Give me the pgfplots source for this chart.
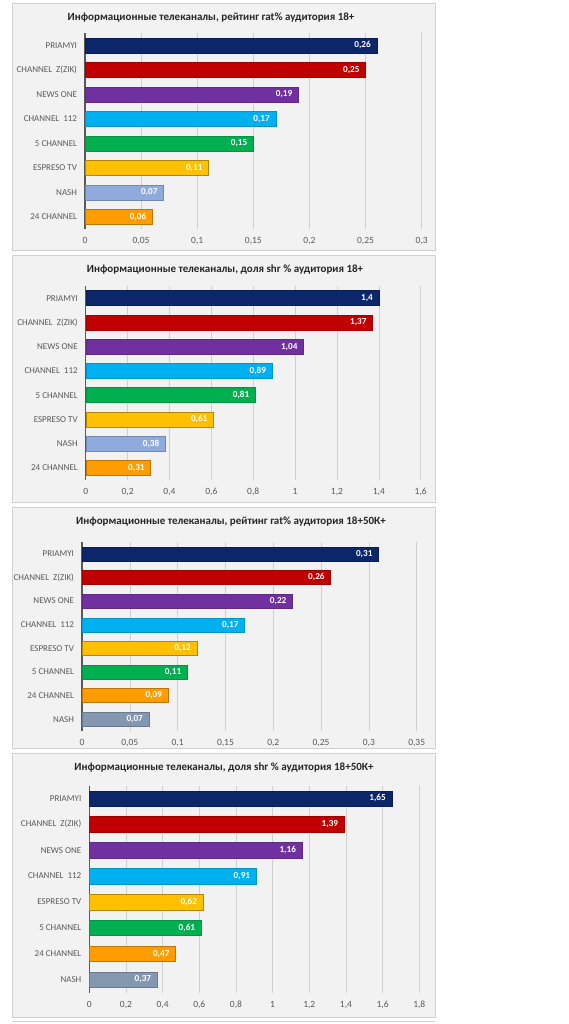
\documentclass[border=0pt]{standalone}
\usepackage{fontspec}
\setmainfont{Carlito}
\usepackage{pgfplots}
\pgfplotsset{compat=1.18}
\definecolor{cnavy}{HTML}{0C266A}
\definecolor{cred}{HTML}{C00000}
\definecolor{cpurple}{HTML}{7030A0}
\definecolor{cblue}{HTML}{00B0F0}
\definecolor{cgreen}{HTML}{00B050}
\definecolor{cyellow}{HTML}{FFC000}
\definecolor{cnashA}{HTML}{8FAADC}
\definecolor{cnashB}{HTML}{8497B0}
\definecolor{corange}{HTML}{FF9C00}
\definecolor{panelbg}{HTML}{F2F2F2}
\definecolor{bordergray}{HTML}{D0D0D0}
\definecolor{gridgray}{HTML}{D0D0D0}
\definecolor{tickgray}{HTML}{595959}
\tikzset{ttl/.style={font=\bfseries\fontsize{11}{13}\selectfont, text=black!85}}
\pgfplotsset{
  panel/.style={
    scale only axis,
    xbar, bar shift=0pt,
    y dir=reverse, ymin=-0.5, ymax=7.5, ytick={0,...,7},
    xmin=0, enlarge x limits=false, enlarge y limits=false,
    scaled x ticks=false, scaled y ticks=false,
    axis x line*=bottom, axis y line*=left,
    x axis line style={draw=none},
    y axis line style={draw=tickgray, line width=1.2pt},
    major tick length=0pt,
    xmajorgrids, grid style={gridgray, line width=0.6pt},
    yticklabel style={xshift=-4.5pt, font=\fontsize{9}{10}\selectfont, text=tickgray},
    xticklabel style={yshift=-3.5pt, text height=1.6ex, text depth=0.3ex,
      font=\fontsize{9.5}{11}\selectfont, text=tickgray,
      /pgf/number format/.cd, fixed, precision=2, use comma, assume math mode=true},
    point meta=x,
    nodes near coords={\pgfmathprintnumber[fixed,precision=2,use comma,assume math mode=true]{\pgfplotspointmeta}},
    every node near coord/.append style={anchor=east, xshift=-2.5pt, text=white,
      font=\bfseries\fontsize{9.2}{10}\selectfont},
  },
}
\begin{document}
\begin{tikzpicture}
\path[fill=white] (0pt,0pt) rectangle (569pt,-1024pt);
\draw[bordergray, fill=panelbg] (12pt,-3pt) rectangle (435pt,-250pt);
\draw[bordergray, fill=panelbg] (12pt,-255pt) rectangle (435pt,-502pt);
\draw[bordergray, fill=panelbg] (12pt,-507pt) rectangle (435pt,-748pt);
\draw[bordergray, fill=panelbg] (12pt,-753pt) rectangle (435pt,-1017pt);
\draw[bordergray] (12pt,-1021pt) -- (435pt,-1021pt);

\node[ttl] at (211pt,-18pt) {Информационные телеканалы, рейтинг rat\% аудитория 18+};
\node[ttl] at (225pt,-270pt) {Информационные телеканалы, доля shr \% аудитория 18+};
\node[ttl] at (231pt,-522pt) {Информационные телеканалы, рейтинг rat\% аудитория 18+50К+};
\node[ttl] at (224pt,-768pt) {Информационные телеканалы, доля shr \% аудитория 18+50К+};

% Panel 1
\begin{axis}[panel, at={(85pt,-229pt)}, anchor=south west, width=336.7pt, height=196pt,
  xmax=0.3, xtick={0,0.05,0.1,0.15,0.2,0.25,0.3}, bar width=15pt,
  yticklabels={PRIAMYI,{CHANNEL\ \ Z(ZIK)},NEWS ONE,{CHANNEL\ \ 112},5 CHANNEL,ESPRESO TV,NASH,24 CHANNEL}]
\addplot[fill=cnavy, draw=cnavy!80!black] coordinates {(0.26,0)};
\addplot[fill=cred, draw=cred!85!black] coordinates {(0.25,1)};
\addplot[fill=cpurple, draw=cpurple!85!black] coordinates {(0.19,2)};
\addplot[fill=cblue, draw=cblue!85!black] coordinates {(0.17,3)};
\addplot[fill=cgreen, draw=cgreen!85!black] coordinates {(0.15,4)};
\addplot[fill=cyellow, draw=cyellow!70!black] coordinates {(0.11,5)};
\addplot[fill=cnashA, draw=cnashA!80!black] coordinates {(0.07,6)};
\addplot[fill=corange, draw=corange!75!black] coordinates {(0.06,7)};
\end{axis}

% Panel 2
\begin{axis}[panel, at={(85.7pt,-480pt)}, anchor=south west, width=335pt, height=194pt,
  xmax=1.6, xtick={0,0.2,0.4,0.6,0.8,1,1.2,1.4,1.6}, bar width=15pt,
  yticklabels={PRIAMYI,{CHANNEL\ \ Z(ZIK)},NEWS ONE,{CHANNEL\ \ 112},5 CHANNEL,ESPRESO TV,NASH,24 CHANNEL}]
\addplot[fill=cnavy, draw=cnavy!80!black] coordinates {(1.4,0)};
\addplot[fill=cred, draw=cred!85!black] coordinates {(1.37,1)};
\addplot[fill=cpurple, draw=cpurple!85!black] coordinates {(1.04,2)};
\addplot[fill=cblue, draw=cblue!85!black] coordinates {(0.89,3)};
\addplot[fill=cgreen, draw=cgreen!85!black] coordinates {(0.81,4)};
\addplot[fill=cyellow, draw=cyellow!70!black] coordinates {(0.61,5)};
\addplot[fill=cnashA, draw=cnashA!80!black] coordinates {(0.38,6)};
\addplot[fill=corange, draw=corange!75!black] coordinates {(0.31,7)};
\end{axis}

% Panel 3
\begin{axis}[panel, at={(82pt,-731pt)}, anchor=south west, width=334.7pt, height=189pt,
  xmax=0.35, xtick={0,0.05,0.1,0.15,0.2,0.25,0.3,0.35}, bar width=14pt,
  yticklabels={PRIAMYI,{CHANNEL\ \ Z(ZIK)},NEWS ONE,{CHANNEL\ \ 112},ESPRESO TV,5 CHANNEL,24 CHANNEL,NASH}]
\addplot[fill=cnavy, draw=cnavy!80!black] coordinates {(0.31,0)};
\addplot[fill=cred, draw=cred!85!black] coordinates {(0.26,1)};
\addplot[fill=cpurple, draw=cpurple!85!black] coordinates {(0.22,2)};
\addplot[fill=cblue, draw=cblue!85!black] coordinates {(0.17,3)};
\addplot[fill=cyellow, draw=cyellow!70!black] coordinates {(0.12,4)};
\addplot[fill=cgreen, draw=cgreen!85!black] coordinates {(0.11,5)};
\addplot[fill=corange, draw=corange!75!black] coordinates {(0.09,6)};
\addplot[fill=cnashB, draw=cnashB!80!black] coordinates {(0.07,7)};
\end{axis}

% Panel 4
\begin{axis}[panel, at={(89.3pt,-992.5pt)}, anchor=south west, width=330pt, height=207pt,
  xmax=1.8, xtick={0,0.2,0.4,0.6,0.8,1,1.2,1.4,1.6,1.8}, bar width=15.5pt,
  yticklabels={PRIAMYI,{CHANNEL\ \ Z(ZIK)},NEWS ONE,{CHANNEL\ \ 112},ESPRESO TV,5 CHANNEL,24 CHANNEL,NASH}]
\addplot[fill=cnavy, draw=cnavy!80!black] coordinates {(1.65,0)};
\addplot[fill=cred, draw=cred!85!black] coordinates {(1.39,1)};
\addplot[fill=cpurple, draw=cpurple!85!black] coordinates {(1.16,2)};
\addplot[fill=cblue, draw=cblue!85!black] coordinates {(0.91,3)};
\addplot[fill=cyellow, draw=cyellow!70!black] coordinates {(0.62,4)};
\addplot[fill=cgreen, draw=cgreen!85!black] coordinates {(0.61,5)};
\addplot[fill=corange, draw=corange!75!black] coordinates {(0.47,6)};
\addplot[fill=cnashB, draw=cnashB!80!black] coordinates {(0.37,7)};
\end{axis}
\end{tikzpicture}
\end{document}
